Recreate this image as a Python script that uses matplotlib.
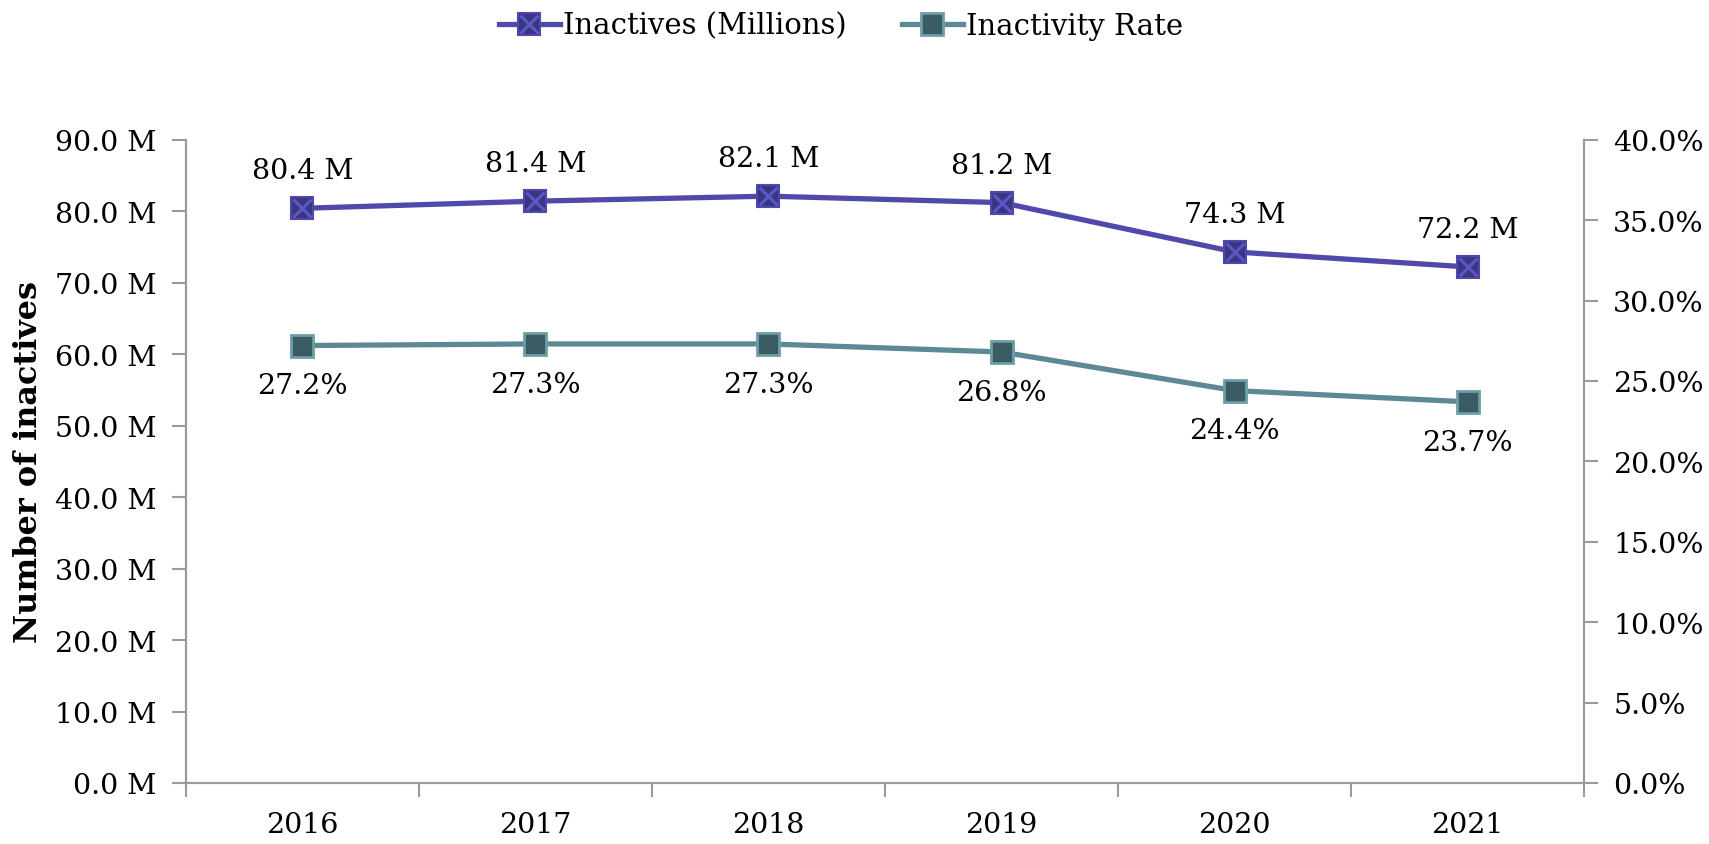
import matplotlib.pyplot as plt
from matplotlib.ticker import FuncFormatter, MultipleLocator, FixedLocator

plt.rcParams['font.family'] = ['DejaVu Serif']

years = ['2016', '2017', '2018', '2019', '2020', '2021']
inactives = [80.4, 81.4, 82.1, 81.2, 74.3, 72.2]
rate = [27.2, 27.3, 27.3, 26.8, 24.4, 23.7]

purple_line = '#5049ab'
purple_face = '#3a3682'
teal_line = '#5b8a94'
teal_face = '#3b5b62'
grey = '#9a9a9a'
fs = 20.5

fig = plt.figure(figsize=(17.09, 8.45), dpi=100)
ax = fig.add_axes([0.1088, 0.0722, 0.8181, 0.7613])
ax2 = ax.twinx()

x = list(range(len(years)))

# inactives line with square + x markers
l1, = ax.plot(x, inactives, color=purple_line, lw=3.8, marker='s', ms=16,
              mfc=purple_face, mec=purple_line, mew=1.5, zorder=3)
l1x, = ax.plot(x, inactives, ls='none', marker='x', ms=13, mec='#5d57c4',
               mew=2.2, zorder=4)

l2, = ax2.plot(x, rate, color=teal_line, lw=3.8, marker='s', ms=16,
               mfc=teal_face, mec='#6b9ea6', mew=2, zorder=3)

ax.set_ylim(0, 90)
ax2.set_ylim(0, 40)
ax.set_xlim(-0.5, 5.5)
ax.yaxis.set_major_locator(MultipleLocator(10))
ax2.yaxis.set_major_locator(MultipleLocator(5))
ax.yaxis.set_major_formatter(FuncFormatter(lambda v, p: f'{v:.1f} M'))
ax2.yaxis.set_major_formatter(FuncFormatter(lambda v, p: f'{v:.1f}%'))

ax.xaxis.set_major_locator(FixedLocator([i - 0.5 for i in range(len(years) + 1)]))
ax.xaxis.set_major_formatter(FuncFormatter(lambda v, p: ''))
ax.xaxis.set_minor_locator(FixedLocator(x))
ax.set_xticklabels(years, minor=True)
ax.tick_params(axis='x', which='minor', length=0, pad=20, labelsize=fs)
ax.tick_params(axis='x', which='major', length=10, width=1.5, color=grey)
ax.tick_params(axis='y', length=10, width=1.5, color=grey, labelsize=fs, pad=11)
ax2.tick_params(axis='y', length=10, width=1.5, color=grey, labelsize=fs, pad=11)

for a in (ax, ax2):
    a.spines['top'].set_visible(False)
    for s in ('left', 'right', 'bottom'):
        a.spines[s].set_color(grey)
        a.spines[s].set_linewidth(1.5)

ax.set_ylabel('Number of inactives', fontsize=23, fontweight='bold', labelpad=8)

for xi, v in zip(x, inactives):
    ax.annotate(f'{v:.1f} M', (xi, v), xytext=(0, 27), textcoords='offset points',
                ha='center', va='center', fontsize=fs)
for xi, v in zip(x, rate):
    ax2.annotate(f'{v:.1f}%', (xi, v), xytext=(0, -29), textcoords='offset points',
                 ha='center', va='center', fontsize=fs)

fig.legend([(l1, l1x), l2], ['Inactives (Millions)', 'Inactivity Rate'],
           loc='upper center', bbox_to_anchor=(0.492, 1.016), ncol=2, frameon=False,
           fontsize=21, handlelength=2.1, handletextpad=0.1, columnspacing=1.9)

fig.savefig('out.png', dpi=100)
